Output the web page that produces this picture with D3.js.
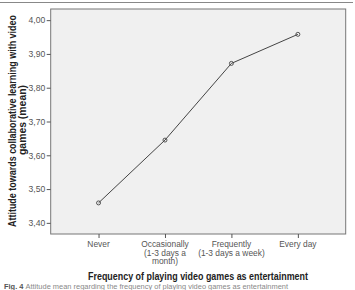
<!DOCTYPE html>
<html lang="en">
<head>
<meta charset="UTF-8">
<title>Attitude by frequency</title>
<script src="https://cdnjs.cloudflare.com/ajax/libs/d3/7.8.5/d3.min.js"></script>
<style>
    body { margin: 0; background: #fff; font-family: "Liberation Sans", Arial, sans-serif; }
    svg { display: block; font-family: "Liberation Sans", Arial, sans-serif; }
</style>
</head>
<body>
<svg width="355" height="290"></svg>
<script>
    // data
    const categories = ["Never", "Occasionally", "Frequently", "Every day"];
    const categoryLines = [["Never"], ["Occasionally", "(1-3 days a", "month)"], ["Frequently", "(1-3 days a week)"], ["Every day"]];
    const means = [3.459, 3.645, 3.872, 3.958];
    const yTicks = [3.40, 3.50, 3.60, 3.70, 3.80, 3.90, 4.00];

    const svg = d3.select("svg");
    const plotLeft = 50.7, plotRight = 345.7, plotTop = 9, plotBottom = 234;
    const FONT = "Liberation Sans, Arial, sans-serif";

    const x = d3.scalePoint().domain(categories).range([plotLeft, plotRight]).padding(0.72);
    const y = d3.scaleLinear().domain([3.367, 4.033]).range([plotBottom, plotTop]);

    // top rule
    svg.append("line").attr("x1", 0).attr("x2", 353).attr("y1", 2.5).attr("y2", 2.5)
        .attr("stroke", "#888").attr("stroke-width", 1);

    // plot area
    svg.append("rect")
        .attr("x", plotLeft).attr("y", plotTop)
        .attr("width", plotRight - plotLeft).attr("height", plotBottom - plotTop)
        .attr("fill", "#f0f0f0").attr("stroke", "#777").attr("stroke-width", 1);

    // y axis
    const yAxis = svg.append("g").attr("transform", `translate(${plotLeft},0)`)
        .call(d3.axisLeft(y).tickValues(yTicks).tickSize(4).tickPadding(1.5)
            .tickFormat(d => d3.format(".2f")(d).replace(".", ",")));
    yAxis.select(".domain").remove();
    yAxis.selectAll("line").attr("stroke", "#555");
    yAxis.selectAll("text").attr("fill", "#555").style("font-size", "8.6px").style("font-family", FONT);

    // x axis
    const xAxis = svg.append("g").attr("transform", `translate(0,${plotBottom})`)
        .call(d3.axisBottom(x).tickSize(4).tickFormat(""));
    xAxis.select(".domain").remove();
    xAxis.selectAll("line").attr("stroke", "#555");

    categories.forEach((c, i) => {
        const t = svg.append("text")
            .attr("x", x(c)).attr("y", 247.3)
            .attr("text-anchor", "middle")
            .attr("fill", "#555")
            .style("font-size", "8.4px");
        categoryLines[i].forEach((ln, j) => {
            t.append("tspan").attr("x", x(c)).attr("dy", j === 0 ? 0 : 8.3).text(ln);
        });
    });

    // line + markers
    const pts = categories.map((c, i) => [x(c), y(means[i])]);
    svg.append("path")
        .attr("d", d3.line()(pts))
        .attr("fill", "none").attr("stroke", "#444").attr("stroke-width", 1);
    svg.selectAll("circle.pt").data(pts).enter().append("circle")
        .attr("class", "pt")
        .attr("cx", d => d[0]).attr("cy", d => d[1]).attr("r", 2)
        .attr("fill", "none").attr("stroke", "#444").attr("stroke-width", 0.9);

    // axis titles
    svg.append("text")
        .attr("transform", "translate(15.8,121) rotate(-90)")
        .attr("text-anchor", "middle")
        .attr("textLength", 212).attr("lengthAdjust", "spacingAndGlyphs")
        .style("font-size", "10px").style("font-weight", "bold").attr("fill", "#222")
        .text("Attitude towards collaborative learning with video");
    svg.append("text")
        .attr("transform", "translate(25.8,120) rotate(-90)")
        .attr("text-anchor", "middle")
        .attr("textLength", 70).attr("lengthAdjust", "spacingAndGlyphs")
        .style("font-size", "10px").style("font-weight", "bold").attr("fill", "#222")
        .text("games (mean)");

    svg.append("text")
        .attr("x", 198).attr("y", 279.5)
        .attr("text-anchor", "middle")
        .attr("textLength", 220).attr("lengthAdjust", "spacingAndGlyphs")
        .style("font-size", "10px").style("font-weight", "bold").attr("fill", "#222")
        .text("Frequency of playing video games as entertainment");

    // caption at the bottom edge
    const cap = svg.append("text").attr("x", 4).attr("y", 288.5)
        .attr("textLength", 284).attr("lengthAdjust", "spacingAndGlyphs")
        .style("font-size", "6.5px").attr("fill", "#888");
    cap.append("tspan").style("font-weight", "bold").attr("fill", "#555").text("Fig. 4 ");
    cap.append("tspan").text("Attitude mean regarding the frequency of playing video games as entertainment");
</script>
</body>
</html>
